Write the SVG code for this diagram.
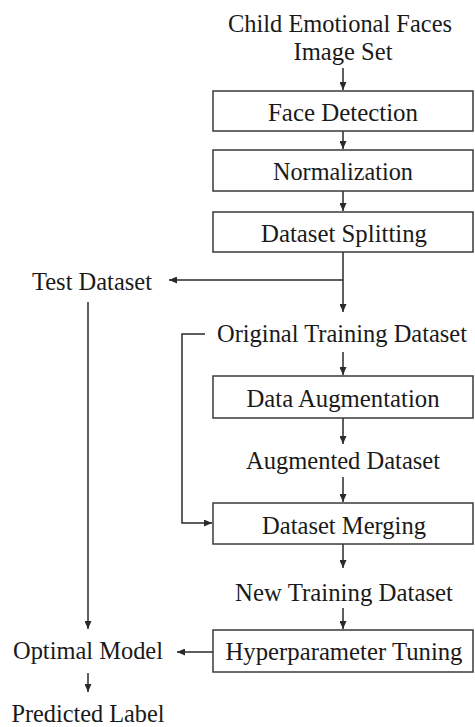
<svg xmlns="http://www.w3.org/2000/svg" width="475" height="727" viewBox="0 0 475 727">
<style>
.box{fill:#fff;stroke:#3a3a3a;stroke-width:1.5}
.t{font-family:"Liberation Serif","Times New Roman",serif;font-size:25.5px;fill:#1a1a1a;text-anchor:middle}
.c{fill:none;stroke:#2a2a2a;stroke-width:1.5}
</style>
<defs>
<marker id="ah" markerWidth="8" markerHeight="7" refX="8" refY="3.5" orient="auto" markerUnits="userSpaceOnUse">
<path d="M0,0 L8,3.5 L0,7 Z" fill="#2a2a2a"/>
</marker>
</defs>
<rect width="475" height="727" fill="#fff"/>
<g id="connectors">
<line class="c" x1="343" y1="68" x2="343" y2="90" marker-end="url(#ah)"/>
<line class="c" x1="343" y1="131" x2="343" y2="149" marker-end="url(#ah)"/>
<line class="c" x1="343" y1="191" x2="343" y2="211" marker-end="url(#ah)"/>
<line class="c" x1="343" y1="252" x2="343" y2="312" marker-end="url(#ah)"/>
<polyline class="c" points="343,280 169,280" marker-end="url(#ah)"/>
<line class="c" x1="88" y1="302" x2="88" y2="629" marker-end="url(#ah)"/>
<line class="c" x1="343" y1="352" x2="343" y2="375" marker-end="url(#ah)"/>
<line class="c" x1="343" y1="418" x2="343" y2="444" marker-end="url(#ah)"/>
<line class="c" x1="343" y1="477" x2="343" y2="502" marker-end="url(#ah)"/>
<polyline class="c" points="205,334 182,334 182,523 212,523" marker-end="url(#ah)"/>
<line class="c" x1="343" y1="544" x2="343" y2="568" marker-end="url(#ah)"/>
<line class="c" x1="343" y1="608" x2="343" y2="629" marker-end="url(#ah)"/>
<line class="c" x1="213" y1="652" x2="177" y2="652" marker-end="url(#ah)"/>
<line class="c" x1="88" y1="673" x2="88" y2="692" marker-end="url(#ah)"/>
</g>
<g id="n-child"><text class="t" x="340" y="32" textLength="224" lengthAdjust="spacingAndGlyphs">Child Emotional Faces</text><text class="t" x="343" y="60" textLength="99" lengthAdjust="spacingAndGlyphs">Image Set</text></g>
<g id="n-face"><rect class="box" x="213" y="91" width="260" height="40"/><text class="t" x="343" y="121" textLength="150" lengthAdjust="spacingAndGlyphs">Face Detection</text></g>
<g id="n-norm"><rect class="box" x="213" y="150" width="260" height="41"/><text class="t" x="343" y="180" textLength="140" lengthAdjust="spacingAndGlyphs">Normalization</text></g>
<g id="n-split"><rect class="box" x="213" y="212" width="260" height="40"/><text class="t" x="344" y="242" textLength="166" lengthAdjust="spacingAndGlyphs">Dataset Splitting</text></g>
<g id="n-test"><text class="t" x="92" y="290" textLength="120" lengthAdjust="spacingAndGlyphs">Test Dataset</text></g>
<g id="n-orig"><text class="t" x="342" y="342" style="font-size:24.3px" textLength="250" lengthAdjust="spacingAndGlyphs">Original Training Dataset</text></g>
<g id="n-aug"><rect class="box" x="213" y="376" width="260" height="42"/><text class="t" x="343" y="407" textLength="193" lengthAdjust="spacingAndGlyphs">Data Augmentation</text></g>
<g id="n-augset"><text class="t" x="343" y="469" textLength="194" lengthAdjust="spacingAndGlyphs">Augmented Dataset</text></g>
<g id="n-merge"><rect class="box" x="213" y="503" width="260" height="41"/><text class="t" x="344" y="534" textLength="164" lengthAdjust="spacingAndGlyphs">Dataset Merging</text></g>
<g id="n-new"><text class="t" x="344" y="601" textLength="218" lengthAdjust="spacingAndGlyphs">New Training Dataset</text></g>
<g id="n-hyper"><rect class="box" x="213" y="630" width="260" height="42"/><text class="t" x="344" y="660" textLength="237" lengthAdjust="spacingAndGlyphs">Hyperparameter Tuning</text></g>
<g id="n-opt"><text class="t" x="88" y="659" textLength="150" lengthAdjust="spacingAndGlyphs">Optimal Model</text></g>
<g id="n-pred"><text class="t" x="88" y="722" textLength="153" lengthAdjust="spacingAndGlyphs">Predicted Label</text></g>
</svg>
